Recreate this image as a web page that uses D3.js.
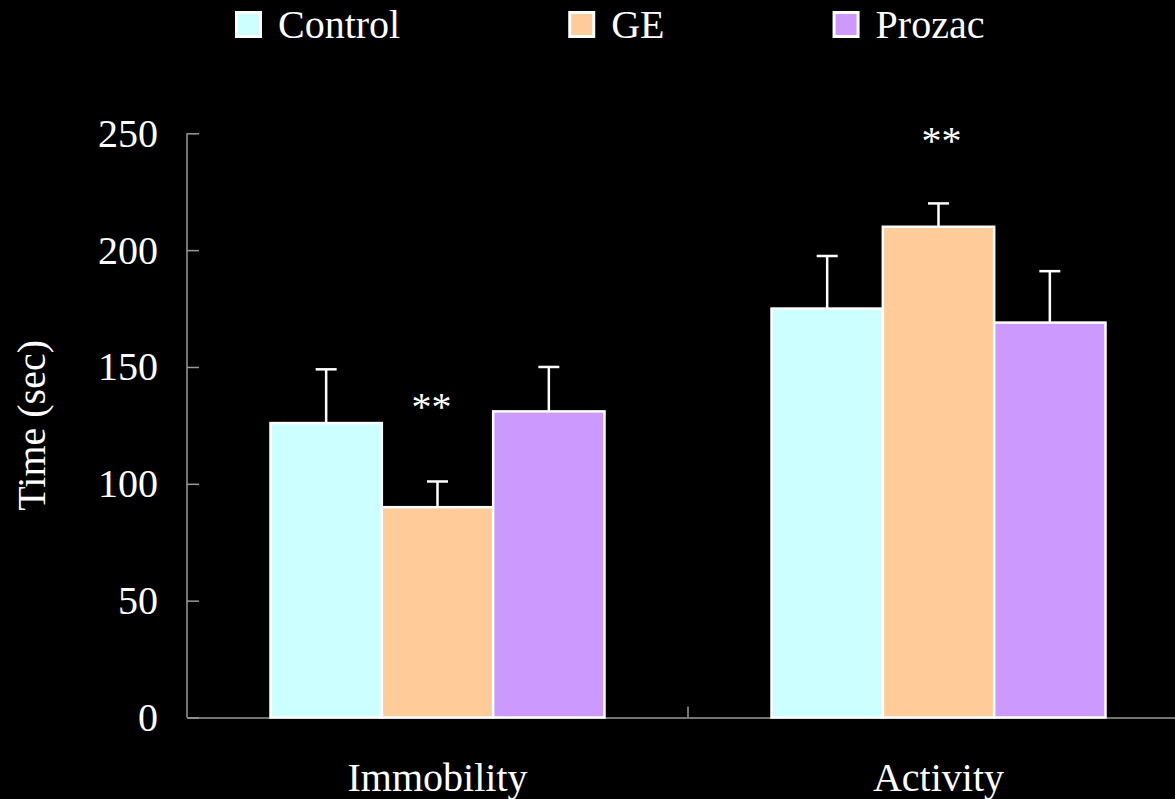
<!DOCTYPE html>
<html>
<head>
<meta charset="utf-8">
<script src="https://cdn.jsdelivr.net/npm/d3@7"></script>
<style>
  html, body { margin: 0; padding: 0; background: #000; }
  svg { display: block; }
</style>
</head>
<body>
<svg id="chart" width="1175" height="799"></svg>
<script>
// ---- data ----
const categories = ["Immobility", "Activity"];
const seriesNames = ["Control", "GE", "Prozac"];
const seriesColors = ["#CCFFFF", "#FFCC99", "#CC99FF"];
const controlValues = [126, 175];
const geValues = [90, 210];
const prozacValues = [131, 169];
const controlErrors = [23, 22.5];
const geErrors = [11, 10];
const prozacErrors = [19, 22];
const yTicks = [0, 50, 100, 150, 200, 250];
const sigLabels = ["**", "**"];      // over GE bars
const sigLevels = [127.5, 241];       // value level of label baseline

(function () {
const FONT = "\"Liberation Serif\", monospace";
const seriesValues = [controlValues, geValues, prozacValues];
const seriesErrors = [controlErrors, geErrors, prozacErrors];

const svg = d3.select("#chart");
const W = 1175, H = 799;
svg.append("rect").attr("width", W).attr("height", H).attr("fill", "#000");

const pLeft = 187, pRight = 1189, pTop = 133.3, pBottom = 717.5;

const x = d3.scaleBand().domain(categories).range([pLeft, pRight]).padding(0);
const xs = d3.scaleBand().domain(seriesNames).range([0, x.bandwidth()])
  .paddingInner(0).paddingOuter(0.75);
const y = d3.scaleLinear().domain([0, 250]).range([pBottom, pTop]);

const axisColor = "#9a9a9a";

const rows = [];
categories.forEach((c, ci) => {
  seriesNames.forEach((s, si) => {
    rows.push({ c, s, si, v: seriesValues[si][ci], e: seriesErrors[si][ci] });
  });
});

// axes
const yAxis = d3.axisRight(y).tickValues(yTicks).tickSize(12).tickFormat("");
const ya = svg.append("g").attr("transform", `translate(${pLeft},0)`).call(yAxis);
ya.select(".domain").attr("stroke", axisColor).attr("stroke-width", 1.5)
  .attr("d", `M0,${pTop}V${pBottom}`);
ya.selectAll(".tick line").attr("stroke", axisColor).attr("stroke-width", 1.5);

const xa = svg.append("g").attr("transform", `translate(0,${pBottom})`)
  .call(d3.axisTop(x).tickValues([]).tickSizeOuter(0));
xa.select(".domain").attr("stroke", axisColor).attr("stroke-width", 1.5);
xa.append("line")
  .attr("x1", x(categories[1])).attr("x2", x(categories[1]))
  .attr("y1", 0).attr("y2", -11)
  .attr("stroke", axisColor).attr("stroke-width", 1.5);

const g = svg.append("g");

// error bars
const eb = g.selectAll(".err").data(rows).join("g").attr("class", "err");
const cx = d => x(d.c) + xs(d.s) + xs.bandwidth() / 2;
eb.append("line")
  .attr("x1", cx).attr("x2", cx)
  .attr("y1", d => y(d.v))
  .attr("y2", d => y(d.v + d.e))
  .attr("stroke", "#fff").attr("stroke-width", 2.5);
eb.append("line")
  .attr("x1", d => cx(d) - 10.5)
  .attr("x2", d => cx(d) + 10.5)
  .attr("y1", d => y(d.v + d.e))
  .attr("y2", d => y(d.v + d.e))
  .attr("stroke", "#fff").attr("stroke-width", 2.5);

g.selectAll(".bar").data(rows).join("rect").attr("class", "bar")
  .attr("x", d => x(d.c) + xs(d.s))
  .attr("y", d => y(d.v))
  .attr("width", xs.bandwidth())
  .attr("height", d => y(0) - y(d.v))
  .attr("fill", d => seriesColors[d.si])
  .attr("stroke", "#fff").attr("stroke-width", 2.5);

function styleText(sel) {
  return sel.style("font-family", FONT).style("font-size", "40px").style("fill", "#fff");
}

// y tick labels
svg.append("g").selectAll("text").data(yTicks).join("text")
  .attr("x", pLeft - 29).attr("y", d => y(d) + 13.5)
  .attr("text-anchor", "end").call(styleText)
  .text(d => d);

// x labels
svg.append("g").selectAll("text").data(categories).join("text")
  .attr("x", d => x(d) + x.bandwidth() / 2).attr("y", 791)
  .attr("text-anchor", "middle").call(styleText)
  .text(d => d);

// y title
svg.append("text")
  .attr("transform", `translate(45,${(pTop + pBottom) / 2}) rotate(-90)`)
  .attr("text-anchor", "middle").call(styleText)
  .text("Time (sec)");

// significance labels over GE bars
svg.append("g").selectAll("text").data(categories).join("text")
  .attr("x", (d, i) => x(d) + xs("GE") + xs.bandwidth() / 2 + (i === 0 ? -6 : 3))
  .attr("y", (d, i) => y(sigLevels[i]))
  .attr("text-anchor", "middle").call(styleText)
  .text((d, i) => sigLabels[i]);

// legend
const leg = svg.append("g");
let lx = 235;
seriesNames.forEach((s, i) => {
  leg.append("rect")
    .attr("x", lx + 1.5).attr("y", 12.5).attr("width", 24).attr("height", 24)
    .attr("fill", seriesColors[i]).attr("stroke", "#fff").attr("stroke-width", 3);
  const t = leg.append("text").attr("x", lx + 43).attr("y", 37.7)
    .call(styleText).text(s);
  const w = t.node().getComputedTextLength();
  lx = lx + 43 + w + 168;
});
})();
</script>
</body>
</html>
